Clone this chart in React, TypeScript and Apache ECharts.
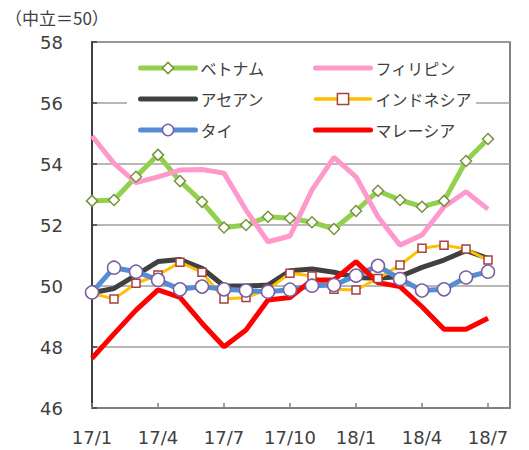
import React, { useEffect, useRef } from "react";
import * as echarts from "echarts";

const months = [
  "17/1", "17/2", "17/3", "17/4", "17/5", "17/6", "17/7", "17/8", "17/9", "17/10",
  "17/11", "17/12", "18/1", "18/2", "18/3", "18/4", "18/5", "18/6", "18/7", "18/8",
];

const vietnam = [52.79, 52.82, 53.58, 54.3, 53.44, 52.76, 51.92, 52.0, 52.27, 52.22, 52.09, 51.87, 52.46, 53.12, 52.82, 52.6, 52.79, 54.1, 54.82];
const philippines = [54.92, 54.02, 53.39, 53.58, 53.8, 53.82, 53.7, 52.49, 51.45, 51.64, 53.15, 54.22, 53.58, 52.27, 51.34, 51.67, 52.6, 53.09, 52.52];
const asean = [49.78, 49.92, 50.36, 50.8, 50.87, 50.58, 50.0, 50.0, 50.03, 50.5, 50.56, 50.45, 50.28, 50.25, 50.31, 50.61, 50.85, 51.16, 50.91];
const indonesia = [49.76, 49.57, 50.09, 50.36, 50.78, 50.45, 49.57, 49.62, 49.89, 50.42, 50.33, 49.89, 49.87, 50.25, 50.69, 51.24, 51.34, 51.21, 50.85];
const thailand = [49.79, 50.6, 50.47, 50.2, 49.89, 49.98, 49.89, 49.85, 49.81, 49.88, 50.01, 50.03, 50.34, 50.66, 50.23, 49.85, 49.89, 50.28, 50.47];
const malaysia = [47.63, 48.43, 49.21, 49.87, 49.63, 48.78, 48.01, 48.56, 49.54, 49.62, 50.2, 50.2, 50.8, 50.11, 49.98, 49.32, 48.58, 48.58, 48.94];

const JP = "'Noto Sans CJK JP', sans-serif";
const NUM = "'DejaVu Sans', Verdana, sans-serif";

export default function App() {
  const ref = useRef<HTMLDivElement>(null);
  useEffect(() => {
    if (!ref.current) return;
    const chart = echarts.init(ref.current, null, { renderer: "svg" });
    const legendText = { fontFamily: JP, fontSize: 16, color: "#404040", lineHeight: 16 };
    const noMarker = { color: "rgba(0,0,0,0)", borderWidth: 0 };
    const ls = (color: string, width: number) => ({ color, width, cap: "round" });
    chart.setOption({
      animation: false,
      backgroundColor: "#ffffff",
      grid: {
        left: 92, right: 19, top: 42, bottom: 42,
        show: true, borderColor: "#595959", borderWidth: 1.5,
      },
      graphic: [
        { type: "rect", z: 1, shape: { x: 127, y: 55, width: 349, height: 88 }, style: { fill: "#ffffff" } },
        {
          type: "text", left: 5, top: 9, z: 10,
          style: { text: "（中立＝50）", fontFamily: JP, fontSize: 17, fill: "#404040" },
        },
      ],
      legend: [
        {
          data: [
            { name: "ベトナム", lineStyle: ls("#92D050", 5), itemStyle: { color: "#ffffff", borderColor: "#77933C", borderWidth: 1.5 } },
            { name: "アセアン", itemStyle: noMarker, lineStyle: ls("#404040", 5) },
            { name: "タイ", lineStyle: ls("#558ED5", 5), itemStyle: { color: "#ffffff", borderColor: "#7B5FA3", borderWidth: 1.5 } },
          ],
          orient: "vertical", left: 138, top: 60,
          itemWidth: 55, itemHeight: 14, itemGap: 15, textStyle: legendText, padding: 0,
        },
        {
          data: [
            { name: "フィリピン", itemStyle: noMarker, lineStyle: ls("#FF99CC", 5) },
            { name: "インドネシア", lineStyle: ls("#FFC000", 3.5), itemStyle: { color: "#ffffff", borderColor: "#A5413F", borderWidth: 1.5 } },
            { name: "マレーシア", itemStyle: noMarker, lineStyle: ls("#FF0000", 5) },
          ],
          orient: "vertical", left: 313, top: 60,
          itemWidth: 55, itemHeight: 14, itemGap: 15, textStyle: legendText, padding: 0,
        },
      ],
      xAxis: {
        type: "category", data: months, boundaryGap: false,
        axisLine: { lineStyle: { color: "#808080", width: 2 } },
        axisTick: { inside: true, interval: 2, length: 5, lineStyle: { color: "#808080", width: 1.5 } },
        axisLabel: { interval: 2, fontFamily: NUM, fontSize: 18, color: "#404040", margin: 20 },
        splitLine: { show: false },
      },
      yAxis: {
        type: "value", min: 46, max: 58, interval: 2,
        axisLine: { show: true, lineStyle: { color: "#404040", width: 2 } },
        axisTick: { show: true, inside: true, length: 5, lineStyle: { color: "#404040", width: 1.5 } },
        axisLabel: { fontFamily: NUM, fontSize: 18, color: "#404040", margin: 29 },
        splitLine: { lineStyle: { color: "#a0a0a0", width: 1.5 } },
      },
      series: [
        {
          name: "ベトナム", type: "line", data: vietnam, symbol: "diamond", symbolSize: 11,
          lineStyle: { color: "#92D050", width: 5 },
          itemStyle: { color: "#ffffff", borderColor: "#77933C", borderWidth: 1.5 },
        },
        {
          name: "フィリピン", type: "line", data: philippines, symbol: "none",
          lineStyle: { color: "#FF99CC", width: 5 }, itemStyle: { color: "#FF99CC" },
        },
        {
          name: "アセアン", type: "line", data: asean, symbol: "none",
          lineStyle: { color: "#404040", width: 5 }, itemStyle: { color: "#404040" },
        },
        {
          name: "インドネシア", type: "line", data: indonesia, symbol: "rect", symbolSize: 8,
          lineStyle: { color: "#FFC000", width: 3 },
          itemStyle: { color: "#ffffff", borderColor: "#A5413F", borderWidth: 1.5 },
        },
        {
          name: "タイ", type: "line", data: thailand, symbol: "circle", symbolSize: 13,
          lineStyle: { color: "#558ED5", width: 5 },
          itemStyle: { color: "#ffffff", borderColor: "#7B5FA3", borderWidth: 1.5 },
        },
        {
          name: "マレーシア", type: "line", data: malaysia, symbol: "none",
          lineStyle: { color: "#FF0000", width: 5 }, itemStyle: { color: "#FF0000" },
        },
      ],
    });
    return () => chart.dispose();
  }, []);
  return <div ref={ref} style={{ width: 529, height: 450, position: "absolute", left: 0, top: 0 }} />;
}
